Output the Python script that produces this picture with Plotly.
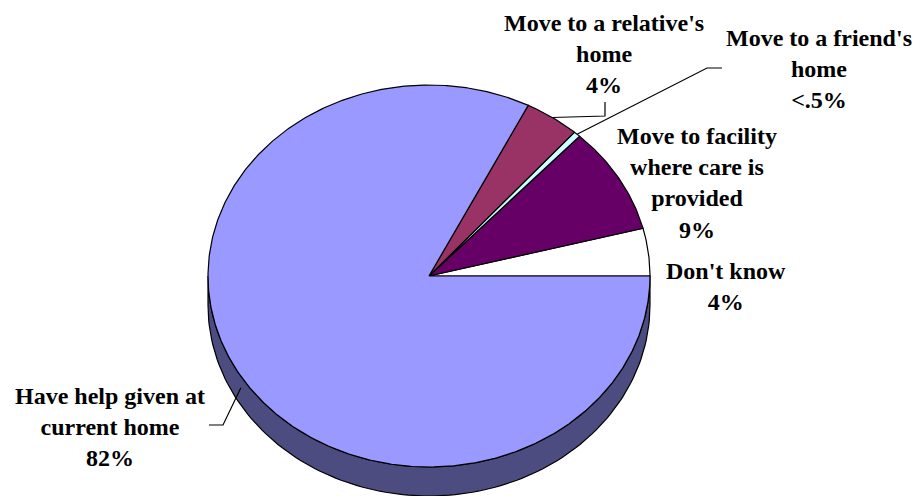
import numpy as np
import plotly.graph_objects as go

# Planned arrangements after a health change (share of respondents)
categories = [
    "Don't know",
    "Move to facility<br>where care is<br>provided",
    "Move to a friend's<br>home",
    "Move to a relative's<br>home",
    "Have help given at<br>current home",
]
values = [4, 9, 0.5, 4, 82]
value_labels = ["4%", "9%", "<.5%", "4%", "82%"]

# Styling
top_colors = ["#FFFFFF", "#660066", "#CCFFFF", "#993366", "#9999FF"]
W, H = 917, 496
CX, CY = 429, 276          # centre of the pie's top face (px)
RX, RY = 221, 191          # ellipse radii of the tilted pie
DEPTH = 29                 # thickness of the pie
FONT = dict(family="Liberation Serif", size=24, color="black", weight="bold")

# label centres and leader-line elbows (px)
label_pos = [(726, 286), (697, 183), (819, 69), (604, 54), (110, 427)]
leader_elbows = [None, None, [(707, 68), (722, 68)], [(605, 116), (605, 102)], [(223, 425), (209, 425)]]


def darker(hex_color, f=0.5):
    h = hex_color.lstrip("#")
    r, g, b = (int(h[i:i + 2], 16) for i in (0, 2, 4))
    return "#%02X%02X%02X" % (round(r * f), round(g * f), round(b * f))


def ell(t_deg, dy=0.0):
    t = np.radians(t_deg)
    return CX + RX * np.cos(t), CY - RY * np.sin(t) + dy


total = float(sum(values))
bounds = np.concatenate([[0.0], np.cumsum(values) / total * 360.0])

fig = go.Figure()

# visible side wall (front half of the pie, angles 180..360)
for i in range(len(values)):
    a0, a1 = max(bounds[i], 180.0), min(bounds[i + 1], 360.0)
    if a1 <= a0:
        continue
    ts = np.linspace(a0, a1, 120)
    xt, yt = ell(ts)
    xb, yb = ell(ts[::-1], DEPTH)
    xs = np.concatenate([xt, xb, xt[:1]])
    ys = np.concatenate([yt, yb, yt[:1]])
    fig.add_trace(go.Scatter(x=xs, y=ys, mode="lines", fill="toself",
                             fillcolor=darker(top_colors[i]),
                             line=dict(color="black", width=1.2),
                             hoverinfo="skip", showlegend=False))

# top faces of the slices
for i in range(len(values)):
    n = max(8, int((bounds[i + 1] - bounds[i]) * 2))
    ts = np.linspace(bounds[i], bounds[i + 1], n)
    xa, ya = ell(ts)
    xs = np.concatenate([[CX], xa, [CX]])
    ys = np.concatenate([[CY], ya, [CY]])
    fig.add_trace(go.Scatter(x=xs, y=ys, mode="lines", fill="toself",
                             fillcolor=top_colors[i],
                             line=dict(color="black", width=1.2),
                             hoverinfo="skip", showlegend=False))

# leader lines from slice mid-angles to the labels
for i in range(len(values)):
    if leader_elbows[i] is None:
        continue
    mid = (bounds[i] + bounds[i + 1]) / 2
    dy = DEPTH * 0.4 if 180 < mid < 360 else 0
    x0, y0 = ell(mid, dy)
    pts = [(x0, y0)] + leader_elbows[i]
    fig.add_trace(go.Scatter(x=[p[0] for p in pts], y=[p[1] for p in pts], mode="lines",
                             line=dict(color="black", width=1.2),
                             hoverinfo="skip", showlegend=False))

# data labels
for i in range(len(values)):
    lx, ly = label_pos[i]
    fig.add_annotation(x=lx, y=ly, xref="x", yref="y",
                       text=f"{categories[i]}<br>{value_labels[i]}",
                       showarrow=False, align="center",
                       xanchor="center", yanchor="middle", font=FONT)

fig.update_layout(
    width=W, height=H,
    margin=dict(l=0, r=0, t=0, b=0),
    paper_bgcolor="white", plot_bgcolor="white",
    xaxis=dict(range=[0, W], visible=False, fixedrange=True),
    yaxis=dict(range=[H, 0], visible=False, fixedrange=True),
)

fig.write_html("out.html")
